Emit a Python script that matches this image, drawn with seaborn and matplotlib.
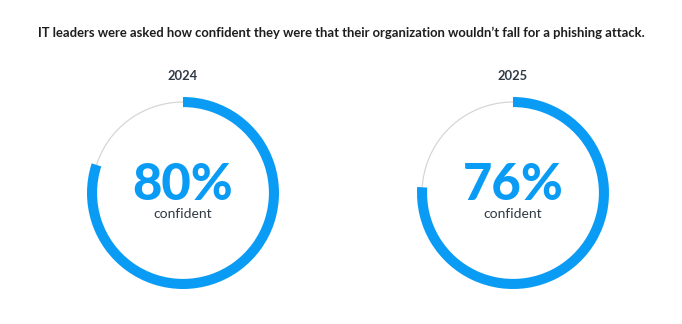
import matplotlib
matplotlib.use("Agg")
import matplotlib.pyplot as plt
import seaborn as sns
import numpy as np

title = "IT leaders were asked how confident they were that their organization wouldn\u2019t fall for a phishing attack."
years = ["2024", "2025"]
values = [80, 76]
sublabel = "confident"

sns.set_theme(style="white")
plt.rcParams['font.family'] = ['Lato', 'DejaVu Sans']

BLUE = "#0a9cf5"
GRAY = "#d6d6d6"
DARK = "#2f3a45"

W, H = 682, 324
fig = plt.figure(figsize=(W / 100, H / 100), dpi=100)
fig.patch.set_facecolor("white")

fig.text(0.5, 1 - 33 / H, title, ha="center", va="center", fontsize=9.4,
         fontweight="bold", color="#1e1e1e")

centers_x = [183, 513]
cy = 193
R = 96
for cx, yr, v in zip(centers_x, years, values):
    ax = fig.add_axes([(cx - R) / W, (H - cy - R) / H, 2 * R / W, 2 * R / H])
    ax.axis("off")
    width = 0.105
    theta = np.linspace(0, 2 * np.pi, 400)
    ax.plot((1 - width / 2) * np.cos(theta), (1 - width / 2) * np.sin(theta),
            color=GRAY, lw=0.9, zorder=1)
    wedges, _ = ax.pie([v, 100 - v], startangle=90, counterclock=False,
                       colors=[BLUE, "none"], radius=1,
                       wedgeprops=dict(width=width, linewidth=0))
    for w in wedges:
        w.set_zorder(2)
    ax.set_xlim(-1, 1)
    ax.set_ylim(-1, 1)
    fig.text(cx / W, 1 - 76 / H, yr, ha="center", va="center", fontsize=9.3,
             fontweight="bold", color=DARK)
    fig.text(cx / W, 1 - 185 / H, f"{v}%", ha="center", va="center",
             fontsize=36.5, fontweight=900, color=BLUE)
    fig.text(cx / W, 1 - 213.5 / H, sublabel, ha="center", va="center",
             fontsize=10, color=DARK)

fig.savefig("out.png", dpi=100)
